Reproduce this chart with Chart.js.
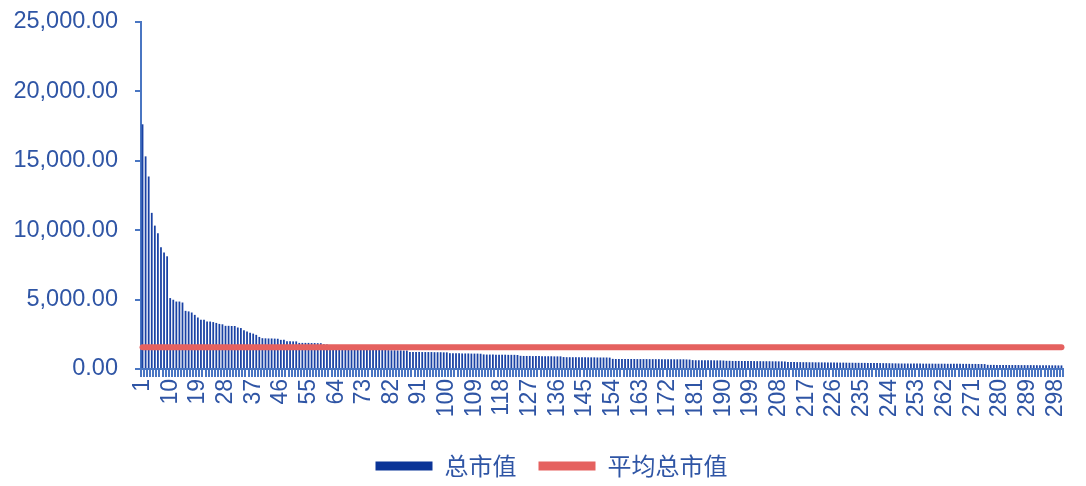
<!DOCTYPE html>
<html>
<head>
<meta charset="utf-8">
<script src="https://cdn.jsdelivr.net/npm/chart.js@4/dist/chart.umd.min.js"></script>
<style>
  html, body { margin: 0; padding: 0; background: #ffffff; }
  #wrap { width: 1086px; height: 486px; }
</style>
</head>
<body>
<div id="wrap"><canvas id="c" width="1086" height="486"></canvas></div>
<script>
// ---- data ----
const categories = Array.from({ length: 300 }, (_, i) => String(i + 1));

const marketCap = [
  17630,15320,13870,11250,10330,9780,8770,8400,8120,5110,
  4990,4860,4860,4790,4190,4150,4070,3900,3710,3540,
  3540,3420,3420,3380,3320,3250,3220,3110,3110,3100,
  3100,2990,2950,2800,2700,2620,2550,2460,2310,2220,
  2210,2200,2200,2190,2180,2100,2100,2000,2000,1990,
  1990,1880,1880,1880,1880,1870,1870,1860,1860,1780,
  1770,1720,1700,1680,1650,1620,1600,1580,1560,1540,
  1520,1500,1480,1470,1450,1430,1420,1400,1390,1370,
  1360,1350,1350,1340,1340,1330,1330,1230,1230,1230,
  1230,1220,1220,1220,1220,1210,1210,1210,1200,1200,
  1140,1130,1130,1130,1120,1120,1120,1110,1110,1110,
  1100,1050,1040,1040,1040,1030,1030,1030,1030,1020,
  1020,1020,1010,950,940,940,940,930,930,930,
  920,920,920,920,910,910,910,860,850,850,
  850,850,850,840,840,840,840,840,830,830,
  830,830,820,730,720,720,720,720,720,720,
  720,715,715,715,715,710,710,710,710,710,
  705,705,705,700,700,700,700,690,680,640,
  630,630,630,630,625,625,625,620,620,610,
  590,590,580,580,580,575,575,570,570,570,
  565,565,560,560,560,555,555,550,550,540,
  510,500,500,495,495,490,490,485,485,480,
  480,475,475,470,470,465,465,460,460,455,
  450,450,445,445,440,440,435,435,430,430,
  425,420,420,415,410,405,400,395,395,395,
  390,390,390,390,385,385,385,385,380,380,
  380,380,375,375,375,375,370,370,370,370,
  365,365,360,360,355,300,295,295,290,290,
  290,290,285,285,285,285,280,280,280,280,
  275,275,275,270,270,270,265,265,260,260
];

const averageCap = [1560, 1560];          // flat average line, first & last category
const averageAt = ['1', '300'];

const yTickValues = [0, 5000, 10000, 15000, 20000, 25000];
const yTickLabels = ['0.00', '5,000.00', '10,000.00', '15,000.00', '20,000.00', '25,000.00'];

const seriesNames = ['总市值', '平均总市值'];

// ---- style ----
const BAR_COLOR = '#1A42A4';
const SWATCH_COLOR = '#0B3497';
const LINE_COLOR = '#E5615F';
const AXIS_COLOR = '#4A76C2';
const TEXT_COLOR = '#2F55A5';

const legendShift = {
  id: 'legendShift',
  afterLayout(chart) { if (chart.legend) chart.legend.left += 40; }
};

const ctx = document.getElementById('c').getContext('2d');
new Chart(ctx, {
  plugins: [legendShift],
  data: {
    labels: categories,
    datasets: [
      {
        type: 'bar',
        label: seriesNames[0],
        data: marketCap,
        backgroundColor: BAR_COLOR,
        borderWidth: 0,
        barPercentage: 0.58,
        categoryPercentage: 1.0,
        order: 2
      },
      {
        type: 'line',
        label: seriesNames[1],
        data: averageAt.map((x, i) => ({ x: x, y: averageCap[i] })),
        borderColor: LINE_COLOR,
        backgroundColor: LINE_COLOR,
        borderWidth: 6,
        borderCapStyle: 'round',
        pointRadius: 0,
        fill: false,
        order: 1
      }
    ]
  },
  options: {
    responsive: false,
    animation: false,
    layout: { padding: { top: 22, right: 23, left: 0, bottom: -2 } },
    plugins: {
      tooltip: { enabled: false },
      legend: {
        position: 'bottom',
        labels: {
          boxWidth: 57,
          boxHeight: 9,
          padding: 22,
          color: TEXT_COLOR,
          font: { family: 'Noto Sans CJK SC', size: 24 },
          generateLabels: () => [
            { text: seriesNames[0], fillStyle: SWATCH_COLOR, strokeStyle: SWATCH_COLOR, lineWidth: 0, fontColor: TEXT_COLOR, datasetIndex: 0 },
            { text: seriesNames[1], fillStyle: LINE_COLOR, strokeStyle: LINE_COLOR, lineWidth: 0, fontColor: TEXT_COLOR, datasetIndex: 1 }
          ]
        }
      }
    },
    scales: {
      x: {
        type: 'category',
        offset: true,
        grid: {
          display: true,
          drawOnChartArea: false,
          drawTicks: true,
          tickLength: 8,
          color: AXIS_COLOR,
          lineWidth: 2
        },
        border: { display: true, color: AXIS_COLOR, width: 2 },
        ticks: {
          autoSkip: false,
          maxRotation: 90,
          minRotation: 90,
          padding: 2,
          color: TEXT_COLOR,
          font: { family: 'Liberation Sans', size: 23 },
          callback: (v, i) => (i % 9 === 0 ? categories[i] : '')
        },
        afterFit: (s) => { s.height = 63; s.paddingLeft = 0; s.paddingRight = 0; }
      },
      y: {
        min: 0,
        max: 25000,
        afterBuildTicks: (s) => { s.ticks = yTickValues.map(v => ({ value: v })); },
        grid: {
          display: true,
          drawOnChartArea: false,
          drawTicks: true,
          tickLength: 6,
          color: AXIS_COLOR,
          lineWidth: 2
        },
        border: { display: true, color: AXIS_COLOR, width: 2 },
        ticks: {
          padding: 17,
          color: TEXT_COLOR,
          font: { family: 'Liberation Sans', size: 23.5 },
          callback: (v) => yTickLabels[yTickValues.indexOf(v)]
        },
        afterFit: (s) => { s.width = 141; s.paddingTop = 0; s.paddingBottom = 0; }
      }
    }
  }
});
</script>
</body>
</html>
